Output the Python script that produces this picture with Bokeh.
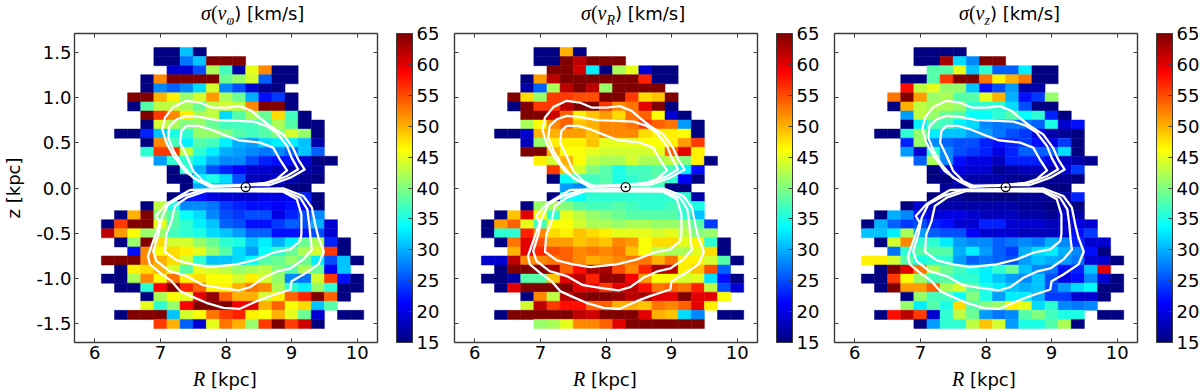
from bokeh.plotting import figure
from bokeh.layouts import row, column
from bokeh.models import (ColorBar, ColumnDataSource, Div, FixedTicker, LinearAxis,
                          LinearColorMapper, NumeralTickFormatter, Range1d)
from bokeh.embed import file_html
from bokeh.resources import INLINE
from bokeh.transform import transform

R_CENTERS = [6.2, 6.4, 6.6, 6.8, 7.0, 7.2, 7.4, 7.6, 7.8, 8.0, 8.2, 8.4, 8.6, 8.8, 9.0, 9.2, 9.4, 9.6, 9.8, 10.0]
Z_CENTERS = [1.5, 1.4, 1.3, 1.2, 1.1, 1.0, 0.9, 0.8, 0.7, 0.6, 0.5, 0.4, 0.3, 0.2, 0.1, 0.0,
             -0.1, -0.2, -0.3, -0.4, -0.5, -0.6, -0.7, -0.8, -0.9, -1.0, -1.1, -1.2, -1.3, -1.4, -1.5]
X_TICKS = [6, 7, 8, 9, 10]
Y_TICKS = [-1.5, -1.0, -0.5, 0.0, 0.5, 1.0, 1.5]
CB_TICKS = [15, 20, 25, 30, 35, 40, 45, 50, 55, 60, 65]

# each row: (index of first filled R column, dispersions in km/s)
SIGMA_PHI = [
    (4, [15, 15, 31, 15]),
    (4, [15, 15, 27, 31, 65, 65, 65]),
    (5, [19, 19, 25, 42, 37, 17, 45, 52, 15, 15]),
    (3, [15, 52, 65, 65, 65, 65, 39, 41, 44, 26, 15, 15]),
    (3, [15, 28, 26, 28, 32, 44, 28, 25, 19, 16, 15]),
    (2, [65, 65, 50, 47, 41, 44, 51, 42, 39, 30, 22, 24, 15]),
    (2, [15, 38, 43, 43, 42, 39, 43, 44, 43, 52, 65, 65, 15]),
    (3, [65, 56, 52, 47, 42, 43, 32, 38, 42, 39, 48, 37, 15]),
    (3, [15, 44, 42, 40, 41, 39, 37, 37, 37, 38, 42, 38, 15, 15]),
    (1, [15, 15, 23, 31, 35, 36, 41, 41, 40, 38, 37, 38, 40, 44, 41, 15]),
    (3, [15, 52, 37, 33, 38, 37, 33, 30, 29, 32, 33, 33, 31, 17]),
    (3, [36, 56, 56, 43, 36, 33, 30, 29, 28, 27, 28, 26, 31, 26]),
    (4, [29, 36, 36, 33, 30, 28, 28, 25, 23, 22, 22, 19, 15, 15]),
    (5, [15, 36, 30, 25, 23, 21, 19, 19, 18, 17, 17, 16]),
    (5, [15, 15, 33, 35, 32, 25, 18, 18, 19, 17, 16, 15]),
    (6, [15, 30, 30, 30, 28, 20, 19, 17, 15, 15]),
    (5, [15, 22, 22, 20, 19, 19, 19, 20, 20, 21, 23, 15]),
    (3, [15, 43, 35, 28, 28, 27, 24, 23, 22, 22, 21, 22, 21, 15]),
    (1, [15, 50, 65, 40, 38, 34, 32, 28, 25, 24, 25, 25, 20, 23, 25, 28]),
    (0, [15, 56, 65, 65, 45, 38, 36, 33, 31, 26, 25, 22, 22, 24, 26, 25, 30, 19]),
    (0, [62, 51, 46, 41, 41, 37, 36, 35, 32, 31, 29, 26, 26, 22, 22, 22, 25, 19]),
    (1, [15, 41, 65, 48, 44, 44, 41, 39, 36, 35, 31, 33, 30, 33, 39, 42, 23, 15]),
    (2, [22, 52, 46, 48, 47, 45, 41, 38, 32, 29, 34, 36, 39, 42, 44, 56, 15]),
    (0, [65, 65, 65, 52, 50, 48, 44, 36, 31, 31, 32, 34, 38, 39, 41, 39, 33, 25, 31, 15]),
    (1, [15, 47, 48, 50, 44, 38, 45, 44, 43, 41, 42, 43, 40, 38, 42, 39, 21, 31]),
    (0, [15, 15, 42, 52, 46, 53, 47, 48, 46, 46, 44, 47, 44, 41, 28, 27, 44, 56, 22, 15]),
    (1, [15, 15, 36, 59, 65, 57, 54, 47, 47, 50, 53, 52, 42, 36, 33, 41, 36, 15, 15]),
    (3, [15, 42, 46, 45, 60, 64, 54, 50, 50, 44, 47, 54, 57, 65, 54, 15]),
    (3, [45, 36, 41, 59, 65, 65, 65, 59, 60, 50, 54, 46, 48, 31, 38]),
    (1, [15, 65, 65, 65, 31, 44, 46, 53, 56, 57, 47, 46, 50, 45, 39, 19, None, 15, 15]),
    (4, [56, 50, 26, 19, 45, 53, 50, 41, 56, 65, 56, 61, 15]),
]
SIGMA_R = [
    (4, [15, 15, 50, 15]),
    (4, [15, 15, 65, 62, 65, 65, 65]),
    (5, [65, 65, 61, 33, 15, 42, 45, 19, 15, 15]),
    (3, [15, 51, 62, 65, 65, 65, 65, 65, 65, 57, 15, 15]),
    (3, [17, 26, 42, 62, 65, 62, 41, 65, 65, 65, 65]),
    (2, [65, 48, 41, 56, 56, 55, 55, 65, 65, 56, 48, 49, 65]),
    (2, [15, 65, 56, 56, 62, 65, 65, 56, 52, 53, 60, 65, 15]),
    (3, [65, 65, 61, 54, 47, 49, 51, 48, 53, 54, 46, 19, 15]),
    (3, [42, 46, 52, 54, 49, 50, 52, 52, 53, 56, 54, 53, 29, 15]),
    (1, [15, 15, 19, 50, 50, 51, 51, 49, 52, 52, 52, 48, 47, 47, 46, 15]),
    (3, [18, 41, 47, 47, 47, 49, 45, 45, 45, 46, 46, 47, 51, 56]),
    (3, [65, 65, 50, 46, 46, 45, 44, 44, 44, 44, 45, 54, 60, 47]),
    (4, [47, 44, 50, 46, 43, 42, 42, 44, 42, 42, 43, 40, 47, 15]),
    (5, [56, 49, 44, 40, 38, 35, 37, 37, 38, 37, 33, 22]),
    (5, [15, 34, 37, 37, 38, 35, 36, 37, 38, 36, 21, 15]),
    (6, [29, 28, 36, 38, 36, 37, 37, 37, 15, 15]),
    (5, [15, 35, 34, 36, 36, 36, 36, 36, 36, 36, 36, 17]),
    (3, [15, 41, 42, 40, 38, 37, 37, 38, 37, 36, 36, 37, 36, 35]),
    (1, [15, 49, 60, 46, 36, 45, 43, 41, 40, 39, 38, 38, 38, 38, 36, 31]),
    (0, [15, 51, 54, 45, 37, 46, 46, 44, 42, 42, 41, 42, 42, 41, 41, 41, 38, 24]),
    (0, [15, 36, 36, 57, 52, 48, 47, 49, 48, 47, 45, 45, 45, 44, 45, 43, 40, 41]),
    (1, [15, 53, 60, 55, 51, 51, 49, 50, 49, 52, 51, 46, 48, 48, 45, 47, 36, 15]),
    (2, [50, 60, 57, 55, 54, 52, 53, 52, 53, 49, 46, 43, 42, 42, 45, 48, 15]),
    (0, [19, 19, 62, 52, 52, 53, 54, 52, 50, 51, 52, 53, 53, 50, 53, 47, 47, 44, 38, 15]),
    (1, [15, 65, 65, 65, 63, 54, 58, 63, 63, 55, 52, 57, 63, 62, 47, 49, 55, 26]),
    (0, [15, 15, 17, 38, 38, 49, 60, 62, 57, 64, 64, 59, 51, 46, 46, 44, 45, 32, 22, 15]),
    (1, [15, 60, 65, 65, 65, 65, 60, 60, 56, 60, 62, 58, 53, 54, 53, 57, 43, 25, 19]),
    (3, [15, 52, 43, 62, 64, 65, 65, 64, 62, 63, 60, 60, 65, 60, 60, 46]),
    (3, [44, 62, 56, 58, 58, 54, 54, 50, 50, 49, 53, 52, 54, 60, 47]),
    (1, [15, 65, 65, 65, 65, 65, 62, 61, 65, 65, 65, 60, 50, 49, 32, 28, None, 15, 15]),
    (4, [41, 42, 45, 52, 52, 54, 60, 65, 65, 65, 65, 65, 65]),
]
SIGMA_Z = [
    (4, [15, 15, 15, 15]),
    (4, [15, 15, 63, 32, 28, 65, 65]),
    (5, [38, 38, 45, 31, 36, 26, 26, 33, 15, 15]),
    (3, [15, 15, 38, 56, 65, 65, 53, 47, 50, 53, 15, 15]),
    (3, [58, 43, 45, 41, 41, 31, 22, 25, 29, 17, 17]),
    (2, [53, 65, 51, 41, 42, 38, 38, 45, 50, 30, 22, 24, 41]),
    (2, [15, 50, 43, 42, 42, 41, 36, 36, 36, 32, 25, 15, 15]),
    (3, [29, 43, 41, 39, 38, 34, 34, 36, 38, 34, 36, 23, 15]),
    (3, [15, 33, 38, 37, 33, 32, 28, 27, 27, 27, 26, 35, 19, 22]),
    (1, [15, 15, 36, 41, 33, 31, 31, 29, 29, 27, 25, 24, 20, 17, 16, 15]),
    (3, [23, 41, 28, 26, 25, 25, 23, 22, 23, 24, 22, 20, 24, 15]),
    (3, [29, 19, 36, 28, 25, 24, 23, 20, 23, 26, 26, 26, 32, 15]),
    (4, [26, 42, 28, 22, 20, 20, 18, 23, 23, 23, 20, 18, 17, 16]),
    (5, [15, 18, 20, 19, 19, 16, 17, 18, 18, 17, 19, 24]),
    (5, [15, 15, 18, 17, 17, 17, 16, 16, 16, 16, 16, 15]),
    (6, [16, 17, 17, 17, 16, 16, 16, 15, 15, 15]),
    (5, [15, 16, 16, 15, 15, 15, 15, 16, 16, 16, 17, 23]),
    (3, [15, 19, 18, 17, 17, 17, 17, 17, 17, 16, 16, 15, 17, 15]),
    (1, [15, 30, 28, 22, 19, 20, 20, 19, 18, 18, 18, 17, 17, 16, 19, 17]),
    (0, [15, 30, 26, 24, 25, 23, 22, 19, 19, 23, 23, 19, 19, 19, 18, 19, 20, 19]),
    (0, [31, 31, 33, 42, 29, 26, 25, 25, 21, 19, 19, 19, 18, 18, 18, 19, 22, 24]),
    (1, [15, 44, 52, 36, 36, 33, 29, 28, 28, 26, 27, 28, 27, 30, 28, 23, 19, 19]),
    (2, [27, 36, 38, 38, 38, 30, 33, 29, 26, 24, 30, 32, 33, 30, 28, 22, 15]),
    (0, [47, 47, 44, 38, 35, 36, 36, 29, 26, 27, 26, 25, 29, 31, 30, 29, 27, 19, 19, 15]),
    (1, [15, 65, 60, 53, 42, 39, 37, 35, 33, 36, 39, 31, 28, 27, 22, 23, 31, 60]),
    (0, [15, 15, 56, 46, 41, 37, 38, 36, 36, 33, 31, 29, 28, 31, 25, 20, 22, 28, 19, 15]),
    (1, [15, 65, 51, 51, 54, 42, 44, 38, 35, 33, 31, 30, 31, 25, 29, 32, 34, 15, 15]),
    (3, [15, 41, 37, 37, 34, 40, 35, 29, 33, 33, 30, 24, 24, 19, 19, 15]),
    (3, [41, 33, 38, 35, 48, 38, 40, 41, 47, 45, 32, 36, 28, 27, 28]),
    (1, [15, 58, 62, 56, 19, 36, 43, 39, 29, 27, 28, 38, 40, 37, 35, 35, None, 15, 15]),
    (4, [15, 29, 36, 36, 43, 49, 44, 29, 35, 35, 38, 42, 15]),
]

UP_OUTER_R = [8.67, 8.98, 9.20, 9.10, 9.02, 8.87, 8.67, 8.52, 8.39, 8.21, 8.01, 7.78, 7.60, 7.40, 7.20, 7.07, 7.03, 7.09, 7.20, 7.37, 7.58, 7.76, 8.01, 8.30, 8.67]
UP_OUTER_Z = [.033, .114, .203, .317, .446, .593, .685, .770, .851, .903, .888, .888, .943, .962, .895, .777, .648, .501, .354, .188, .078, .011, .022, .033, .033]
UP_MID_R = [8.67, 8.93, 9.10, 9.00, 8.93, 8.77, 8.62, 8.42, 8.16, 7.86, 7.60, 7.40, 7.25, 7.14, 7.12, 7.20, 7.32, 7.50, 7.76, 8.16, 8.67]
UP_MID_Z = [.059, .133, .206, .335, .464, .612, .685, .733, .740, .748, .785, .796, .759, .685, .556, .409, .262, .114, .022, .030, .059]
UP_INNER_R = [8.57, 8.77, 8.93, 8.82, 8.72, 8.52, 8.19, 8.01, 7.76, 7.58, 7.40, 7.32, 7.30, 7.40, 7.50, 7.65, 7.81, 8.16, 8.57]
UP_INNER_Z = [.048, .096, .195, .317, .446, .501, .527, .575, .648, .685, .685, .630, .501, .354, .188, .078, .022, .022, .048]
LOW_OUTER_R = [7.45, 8.87, 9.18, 9.31, 9.36, 9.41, 9.49, 9.41, 9.18, 9.00, 8.98, 8.67, 8.47, 8.21, 7.96, 7.70, 7.50, 7.30, 7.17, 6.99, 6.84, 6.81, 6.89, 6.99, 6.93, 7.09, 7.25, 7.45]
LOW_OUTER_Z = [-.022, -.004, -.088, -.217, -.401, -.549, -.703, -.843, -.954, -1.028, -1.120, -1.193, -1.249, -1.333, -1.322, -1.267, -1.204, -1.138, -1.028, -.935, -.843, -.751, -.586, -.383, -.309, -.180, -.107, -.022]
LOW_MID_R = [8.87, 9.13, 9.24, 9.27, 9.29, 9.31, 9.18, 8.98, 8.77, 8.57, 8.37, 8.19, 7.91, 7.65, 7.40, 7.14, 6.94, 6.89, 6.97, 7.02, 7.12, 7.35, 7.65, 8.87]
LOW_MID_Z = [-.026, -.107, -.236, -.401, -.567, -.678, -.788, -.888, -.924, -.991, -1.094, -1.131, -1.101, -1.072, -.972, -.917, -.806, -.696, -.512, -.328, -.180, -.088, -.022, -.026]
LOW_INNER_R = [8.87, 9.08, 9.15, 9.15, 9.13, 8.98, 8.72, 8.47, 8.16, 7.76, 7.50, 7.25, 7.07, 7.09, 7.17, 7.22, 7.40, 7.70, 8.87]
LOW_INNER_Z = [-.040, -.125, -.291, -.512, -.586, -.678, -.714, -.788, -.843, -.873, -.843, -.799, -.703, -.512, -.365, -.199, -.107, -.033, -.040]
CONTOURS = [(UP_OUTER_R, UP_OUTER_Z), (UP_MID_R, UP_MID_Z), (UP_INNER_R, UP_INNER_Z),
            (LOW_OUTER_R, LOW_OUTER_Z), (LOW_MID_R, LOW_MID_Z), (LOW_INNER_R, LOW_INNER_Z)]
SUN_R = [8.3]
SUN_Z = [0.01]


def jet(n=256):
    out = []
    for i in range(n):
        t = i / (n - 1)
        ch = [min(4 * t + o, -4 * t + e) for o, e in ((-1.5, 4.5), (-0.5, 3.5), (0.5, 2.5))]
        r, g, b = [int(round(255 * max(0.0, min(1.0, c)))) for c in ch]
        out.append(f"#{r:02x}{g:02x}{b:02x}")
    return out


mapper = LinearColorMapper(palette=jet(), low=15, high=65)
SANS = "DejaVu Sans"
SERIF = "Liberation Serif"
FS = "18px"
EDGE = "#3c3c3c"


def caption(html, width, height, pad):
    return Div(text=html, width=width, height=height, margin=0,
               styles={"font-family": SANS, "font-size": FS, "line-height": f"{height + 2}px", "overflow": "visible",
                       "padding-left": f"{pad}px", "white-space": "nowrap", "color": "black"})


def serif(text, size=20):
    return f'<i style="font-family:{SERIF};font-size:{size}px">{text}</i>'


def panel(sigma, sub, title_pad, label_pad, first, border_left, border_right):
    xs, ys, vs = [], [], []
    for z, (start, vals) in zip(Z_CENTERS, sigma):
        for k, v in enumerate(vals):
            if v is not None:
                xs.append(R_CENTERS[start + k])
                ys.append(z)
                vs.append(v)
    p = figure(frame_width=303, frame_height=309, x_range=Range1d(5.69, 10.31), y_range=Range1d(-1.705, 1.705),
               output_backend="svg", toolbar_location=None, x_axis_location=None, y_axis_location=None,
               min_border_left=border_left, min_border_right=border_right, min_border_top=9, min_border_bottom=24,
               background_fill_color="white", border_fill_color="white", outline_line_color=EDGE, outline_line_width=1.4)
    p.grid.visible = False
    for loc, ticks, show in (("below", X_TICKS, True), ("above", X_TICKS, False),
                             ("left", Y_TICKS, first), ("right", Y_TICKS, False)):
        ax = LinearAxis(ticker=FixedTicker(ticks=ticks), major_tick_in=4, major_tick_out=0, minor_tick_line_color=None,
                        axis_line_color=None, major_tick_line_color=EDGE, major_tick_line_width=1,
                        major_label_text_font=SANS, major_label_text_font_size=FS if show else "0px",
                        major_label_text_color="black", major_label_standoff=3 if show else 0)
        if loc in ("left", "right"):
            ax.formatter = NumeralTickFormatter(format="0.0")
        if not show:
            ax.major_label_text_alpha = 0
        if loc == "left" and first:
            ax.axis_label = "z [kpc]"
            ax.axis_label_text_font = SANS
            ax.axis_label_text_font_size = FS
            ax.axis_label_text_font_style = "normal"
            ax.axis_label_text_color = "black"
            ax.axis_label_standoff = 9
        p.add_layout(ax, loc)
    src = ColumnDataSource(dict(x=xs, y=ys, v=vs))
    cmap = transform("v", mapper)
    p.rect("x", "y", width=0.2, height=0.1, source=src, fill_color=cmap, line_color=cmap, line_width=0.5)
    for cr, cz in CONTOURS:
        p.line(cr, cz, line_color="white", line_width=2.3, line_join="round")
    p.scatter(SUN_R, SUN_Z, marker="circle_dot", size=9, line_color="black", line_width=1.3, fill_color="white", fill_alpha=0.5)
    bar = ColorBar(color_mapper=mapper, ticker=FixedTicker(ticks=CB_TICKS), width=16, padding=0, location=(19, 0),
                   major_tick_in=4, major_tick_out=0, minor_tick_line_color=None, major_tick_line_color=EDGE,
                   bar_line_color=EDGE, bar_line_width=1, major_label_text_font=SANS, major_label_text_font_size=FS,
                   major_label_text_color="black", label_standoff=4)
    p.add_layout(bar, "right")
    fig_w = border_left + 303 + border_right
    title_html = serif("σ") + '<span style="font-family:' + SERIF + ';font-size:20px">(</span>' + serif("v") + \
        f'<sub style="line-height:0;font-family:{SERIF};font-size:14px;font-style:italic">{sub}</sub>' + ") [km/s]"
    top = caption(title_html, fig_w, 24, title_pad)
    bottom = caption(serif("R") + " [kpc]", fig_w, 25, label_pad)
    return column(top, p, bottom, spacing=0)


p1 = panel(SIGMA_PHI, "φ", 201, 193, True, 74, 69)
p2 = panel(SIGMA_R, "R", 135, 127, False, 8, 69)
p3 = panel(SIGMA_Z, "z", 133, 126, False, 8, 56)

layout = row(p1, p2, p3, spacing=0)
open("out.html", "w").write(file_html(layout, INLINE))
